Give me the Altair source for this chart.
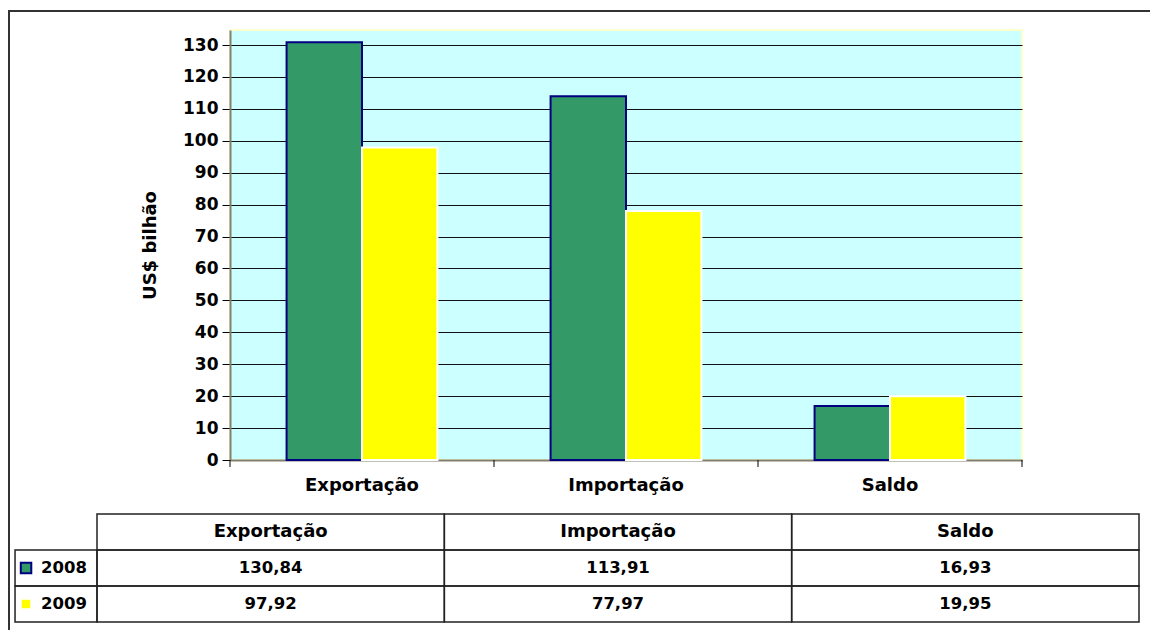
import altair as alt
import pandas as pd

categories = ["Exportação", "Importação", "Saldo"]
years = ["2008", "2009"]
values_2008 = [130.84, 113.91, 16.93]
values_2009 = [97.92, 77.97, 19.95]
table_2008 = ["130,84", "113,91", "16,93"]
table_2009 = ["97,92", "77,97", "19,95"]
y_ticks = list(range(0, 131, 10))

FONT = "DejaVu Sans"
FS = 17

bars_df = pd.DataFrame({
    "cat": categories * 2,
    "year": [years[0]] * 3 + [years[1]] * 3,
    "value": values_2008 + values_2009,
})

color_scale = alt.Scale(domain=years, range=["#339966", "#FFFF00"])
stroke_scale = alt.Scale(domain=years, range=["#000080", "#FFFFFF"])

x_axis = alt.Axis(title=None, ticks=False, labelFont=FONT, labelFontSize=18,
                  labelFontWeight="bold", labelColor="black", labelPadding=16,
                  labelAngle=0, domainColor="#808070", domainWidth=2, grid=False)
x_scale = alt.Scale(paddingInner=0, paddingOuter=0)

bars = alt.Chart(bars_df).mark_bar(strokeWidth=2).encode(
    x=alt.X("cat:N", sort=categories, scale=x_scale, axis=x_axis),
    xOffset=alt.XOffset("year:N", sort=years,
                        scale=alt.Scale(paddingInner=0, paddingOuter=0.75)),
    y=alt.Y("value:Q", scale=alt.Scale(domain=[0, 134.7], nice=False),
            axis=alt.Axis(values=y_ticks, title="US$ bilhão", titleFont=FONT,
                          titleFontSize=18, titleFontWeight="bold", titleColor="black",
                          titlePadding=23, labelFont=FONT, labelFontSize=FS,
                          labelFontWeight="bold", labelColor="black", labelPadding=4,
                          tickSize=8, tickColor="black", domainColor="#808070",
                          domainWidth=2, grid=True, gridColor="#111111", gridWidth=1)),
    color=alt.Color("year:N", scale=color_scale, legend=None),
    stroke=alt.Stroke("year:N", scale=stroke_scale, legend=None),
)

cat_df = pd.DataFrame({"cat": categories})
xticks = alt.Chart(cat_df).mark_rule(color="black", strokeWidth=1).encode(
    x=alt.X("cat:N", sort=categories, scale=x_scale, axis=x_axis, bandPosition=0),
    y=alt.value(430), y2=alt.value(437),
)
end_tick = alt.Chart(cat_df.head(1)).mark_rule(color="black", strokeWidth=1).encode(
    x=alt.value(792), y=alt.value(430), y2=alt.value(437),
)

plot = alt.layer(bars, xticks, end_tick)

# ---- data table below the plot ----
rows = []
for i, c in enumerate(categories):
    rows.append({"col": i, "row": 0, "label": c, "year": "", "kind": "head"})
for r, (yr, vals) in enumerate(zip(years, [table_2008, table_2009]), start=1):
    rows.append({"col": -1, "row": r, "label": yr, "year": yr, "kind": "legend"})
    for i, v in enumerate(vals):
        rows.append({"col": i, "row": r, "label": v, "year": yr, "kind": "cell"})
table_df = pd.DataFrame(rows)

tx = alt.Scale(domain=[0, 3], range=[-133, 909], nice=False, zero=False)
ty = alt.Scale(domain=[0, 3], range=[484, 592], nice=False, zero=False)

base = alt.Chart(table_df).transform_calculate(
    x0="datum.col < 0 ? -0.236 : datum.col",
    x1="datum.col + 1",
    y0="datum.row",
    y1="datum.row + 1",
    xm="(datum.col < 0 ? -0.236 : datum.col) + (datum.col < 0 ? 0.236 : 1) / 2",
    ym="datum.row + 0.5",
    sx="datum.col < 0 ? -0.236 + 0.0317 : 0",
    lx="datum.col < 0 ? -0.236 + 0.075 : 0",
)

cells = base.mark_rect(fill="white", fillOpacity=0, stroke="#222222", strokeWidth=1.5).encode(
    x=alt.X("x0:Q", scale=tx, axis=None),
    x2="x1:Q",
    y=alt.Y("y0:Q", scale=ty, axis=None),
    y2="y1:Q",
)
head_text = base.transform_filter("datum.row == 0").mark_text(
    font=FONT, fontSize=18, fontWeight="bold", color="black", baseline="middle"
).encode(
    x=alt.X("xm:Q", scale=tx, axis=None),
    y=alt.Y("ym:Q", scale=ty, axis=None),
    text="label:N",
)
cell_text = base.transform_filter("datum.col >= 0 && datum.row > 0").mark_text(
    font=FONT, fontSize=16.5, fontWeight="bold", color="black", baseline="middle"
).encode(
    x=alt.X("xm:Q", scale=tx, axis=None),
    y=alt.Y("ym:Q", scale=ty, axis=None),
    text="label:N",
)
legend_text = base.transform_filter("datum.col < 0").mark_text(
    font=FONT, fontSize=16.5, fontWeight="bold", color="black", baseline="middle", align="left"
).encode(
    x=alt.X("lx:Q", scale=tx, axis=None),
    y=alt.Y("ym:Q", scale=ty, axis=None),
    text="label:N",
)
legend_sym = base.transform_filter("datum.col < 0").mark_square(
    size=110, opacity=1, strokeWidth=2
).encode(
    x=alt.X("sx:Q", scale=tx, axis=None),
    y=alt.Y("ym:Q", scale=ty, axis=None),
    color=alt.Color("year:N", scale=color_scale, legend=None),
    stroke=alt.Stroke("year:N", scale=stroke_scale, legend=None),
)
frame = alt.Chart(cat_df.head(1)).mark_rect(
    fill="white", fillOpacity=0, stroke="#333333", strokeWidth=2
).encode(
    x=alt.value(-221), x2=alt.value(960), y=alt.value(-19), y2=alt.value(660),
)

table = alt.layer(cells, head_text, cell_text, legend_text, legend_sym, frame)

chart = alt.layer(plot, table).resolve_scale(
    x="independent", y="independent"
).properties(
    width=792, height=430,
    padding={"left": 230, "top": 30, "right": 128, "bottom": 170},
    autosize=alt.AutoSizeParams(type="none"),
    background="white",
).configure_view(
    fill="#CCFFFF", stroke="#FFFFCC", strokeWidth=2
)

chart.save("out.html", embed_options={"renderer": "svg", "actions": False})
